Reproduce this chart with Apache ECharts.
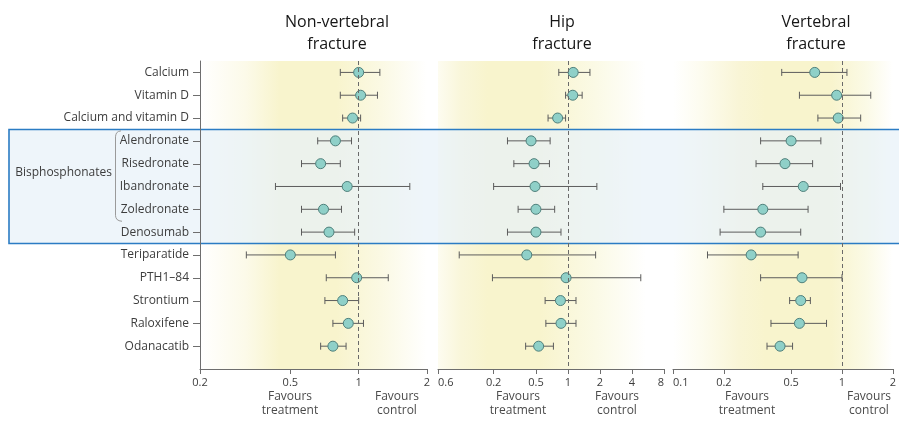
<!DOCTYPE html>
<html><head><meta charset="utf-8">
<script src="https://cdn.jsdelivr.net/npm/echarts@6/dist/echarts.min.js"></script>
<style>html,body{margin:0;padding:0;background:#fff}#c{width:899px;height:421px}</style>
</head><body><div id="c"></div>
<script>
const categories = ['Calcium','Vitamin D','Calcium and vitamin D','Alendronate','Risedronate','Ibandronate','Zoledronate','Denosumab','Teriparatide','PTH1–84','Strontium','Raloxifene','Odanacatib'];

const nonVertEst  = [1.00, 1.02, 0.94, 0.79, 0.68, 0.89, 0.70, 0.74, 0.50, 0.98, 0.85, 0.90, 0.77];
const nonVertLow  = [0.83, 0.83, 0.85, 0.66, 0.56, 0.43, 0.56, 0.56, 0.32, 0.72, 0.71, 0.77, 0.68];
const nonVertHigh = [1.24, 1.21, 1.02, 0.93, 0.83, 1.68, 0.84, 0.96, 0.79, 1.35, 1.00, 1.05, 0.88];

const hipEst  = [1.12, 1.11, 0.80, 0.45, 0.48, 0.49, 0.50, 0.50, 0.41, 0.96, 0.85, 0.86, 0.53];
const hipLow  = [0.82, 0.95, 0.65, 0.27, 0.31, 0.20, 0.34, 0.27, 0.095, 0.195, 0.61, 0.62, 0.40];
const hipHigh = [1.61, 1.36, 0.95, 0.68, 0.67, 1.87, 0.75, 0.86, 1.82, 4.84, 1.19, 1.19, 0.73];

const vertEst  = [0.69, 0.93, 0.95, 0.50, 0.46, 0.59, 0.34, 0.33, 0.29, 0.58, 0.57, 0.56, 0.43];
const vertLow  = [0.44, 0.56, 0.72, 0.33, 0.31, 0.34, 0.20, 0.19, 0.16, 0.33, 0.49, 0.38, 0.36];
const vertHigh = [1.07, 1.48, 1.29, 0.75, 0.67, 0.98, 0.63, 0.57, 0.55, 1.00, 0.65, 0.81, 0.51];

const nonVertTicks = [0.2, 0.5, 1, 2];
const nonVertTickLabels = ['0.2', '0.5', '1', '2'];
const hipTicks = [0.06, 0.2, 0.5, 1, 2, 4, 8];
const hipTickLabels = ['0.6', '0.2', '0.5', '1', '2', '4', '8'];
const vertTicks = [0.1, 0.2, 0.5, 1, 2];
const vertTickLabels = ['0.1', '0.2', '0.5', '1', '2'];

const panelTitles = ['Non-vertebral\nfracture', 'Hip\nfracture', 'Vertebral\nfracture'];
const groupLabel = 'Bisphosphonates';
const favourTreatment = 'Favours\ntreatment';
const favourControl = 'Favours\ncontrol';

const FONT = "'Open Sans', sans-serif";
const AXIS_COLOR = '#6e6e6e';
const TEXT_COLOR = '#3d3d3d';
const rows = categories.map((_, i) => i);

const chart = echarts.init(document.getElementById('c'), null, {renderer: 'canvas'});

function grad(stops) {
  return new echarts.graphic.LinearGradient(0, 0, 1, 0, stops.map(s => ({offset: s[0], color: s[1]})));
}
const Y = '#f8f4cd';
const panels = [
  {est: nonVertEst, low: nonVertLow, high: nonVertHigh, ticks: nonVertTicks, labels: nonVertTickLabels,
   min: 0.2, max: 2, left: 200, width: 227, alignMin: 'center', alignMax: 'center',
   bg: [[0, '#ffffff'], [0.2, '#fcfae9'], [0.35, Y], [0.6, Y], [0.8, '#fbf9e4'], [1, '#ffffff']],
   titleX: 332, ftX: 290, fcX: 397},
  {est: hipEst, low: hipLow, high: hipHigh, ticks: hipTicks, labels: hipTickLabels,
   min: 0.06, max: 8, left: 438, width: 226, alignMin: 'left', alignMax: 'right',
   bg: [[0, '#fdfcf0'], [0.1, '#f9f6da'], [0.22, Y], [0.45, Y], [0.7, '#fbfae6'], [0.92, '#ffffff'], [1, '#ffffff']],
   titleX: 557, ftX: 518, fcX: 617},
  {est: vertEst, low: vertLow, high: vertHigh, ticks: vertTicks, labels: vertTickLabels,
   min: 0.1, max: 2, left: 673, width: 229, alignMin: 'left', alignMax: 'center',
   bg: [[0, '#ffffff'], [0.12, '#fdfcf0'], [0.3, '#f9f5d6'], [0.42, Y], [0.72, Y], [0.88, '#fbfae6'], [1, '#ffffff']],
   titleX: 811, ftX: 747, fcX: 869}
];

function nearestLabel(v, ticks, labels) {
  let best = 0, bd = Infinity;
  ticks.forEach((t, i) => { const d = Math.abs(Math.log(v) - Math.log(t)); if (d < bd) { bd = d; best = i; } });
  return labels[best];
}

const grids = [], xAxes = [], yAxes = [], series = [], titles = [];
panels.forEach((p, i) => {
  grids.push({left: p.left, width: p.width, top: 61, height: 308, show: true, borderWidth: 0, backgroundColor: grad(p.bg)});
  xAxes.push({
    type: 'log', logBase: 10, gridIndex: i, min: p.min, max: p.max, z: 3, position: 'bottom',
    axisLine: {show: true, onZero: false, lineStyle: {color: AXIS_COLOR, width: 1}},
    axisTick: {show: true, customValues: p.ticks, length: 5, lineStyle: {color: AXIS_COLOR}},
    minorTick: {show: false},
    axisLabel: {customValues: p.ticks, formatter: v => nearestLabel(v, p.ticks, p.labels),
      margin: 8, fontSize: 11, color: TEXT_COLOR, fontFamily: FONT,
      alignMinLabel: p.alignMin, alignMaxLabel: p.alignMax},
    splitLine: {show: false}
  });
  yAxes.push({
    type: 'value', gridIndex: i, inverse: true, min: -0.5, max: 13, show: i === 0, z: 3, position: 'left',
    axisLine: {show: true, onZero: false, lineStyle: {color: AXIS_COLOR, width: 1}},
    axisTick: {show: false},
    axisLabel: {customValues: rows, formatter: v => categories[Math.round(v)] || '',
      margin: 11, fontSize: 12, color: TEXT_COLOR, fontFamily: FONT},
    splitLine: {show: false}
  });
  series.push({
    type: 'custom', xAxisIndex: i, yAxisIndex: i, z: 3, silent: true,
    data: rows.map(r => [p.low[r], p.high[r], r]),
    encode: {x: [0, 1], y: 2},
    renderItem: (params, api) => {
      const y = api.value(2);
      const a = api.coord([api.value(0), y]);
      const b = api.coord([api.value(1), y]);
      const h = 3.5;
      const st = {stroke: '#5c5c5c', lineWidth: 1};
      return {type: 'group', children: [
        {type: 'line', shape: {x1: a[0], y1: a[1], x2: b[0], y2: b[1]}, style: st},
        {type: 'line', shape: {x1: a[0], y1: a[1] - h, x2: a[0], y2: a[1] + h}, style: st},
        {type: 'line', shape: {x1: b[0], y1: b[1] - h, x2: b[0], y2: b[1] + h}, style: st}
      ]};
    },
    markLine: {silent: true, symbol: 'none', label: {show: false},
      lineStyle: {color: '#6a6a6a', type: [4, 3], width: 1}, data: [{xAxis: 1}]}
  });
  series.push({
    type: 'scatter', xAxisIndex: i, yAxisIndex: i, z: 4, silent: true,
    data: rows.map(r => [p.est[r], r]),
    symbol: 'circle', symbolSize: 10,
    itemStyle: {color: '#8fd0c8', borderColor: '#4f807b', borderWidth: 1, opacity: 1}
  });
  titles.push({text: panelTitles[i], left: p.titleX, top: 6, textAlign: 'center',
    textStyle: {fontSize: 16, fontWeight: 'normal', color: '#161616', fontFamily: FONT, lineHeight: 22}});
});

chart.setOption({
  animation: false,
  title: titles,
  grid: grids, xAxis: xAxes, yAxis: yAxes, series: series
});

const yA = chart.convertToPixel({yAxisIndex: 0}, 2.5);
const yB = chart.convertToPixel({yAxisIndex: 0}, 7.5);
const y3 = chart.convertToPixel({yAxisIndex: 0}, 3);
const y6 = chart.convertToPixel({yAxisIndex: 0}, 6);
const axisX = chart.convertToPixel({xAxisIndex: 0}, panels[0].min);
const bt = y3 - 10, bb = y6 + 12, bx = 115.5;
const bracketPts = [[121, bt], [118.5, bt + 0.6], [116.6, bt + 2], [115.8, bt + 4], [bx, bt + 6],
  [bx, bb - 6], [115.8, bb - 4], [116.8, bb - 2], [119, bb - 0.6], [122, bb]];
const graphics = [
  {type: 'rect', z: 1, silent: true, shape: {x: 9, y: yA, width: 900, height: yB - yA},
   style: {fill: 'rgba(232,241,248,0.72)', stroke: '#2b7cc4', lineWidth: 1.6}},
  {type: 'polyline', z: 5, silent: true, shape: {points: bracketPts},
   style: {fill: null, stroke: '#9a9a9a', lineWidth: 1}},
  {type: 'text', z: 5, silent: true, x: 112, y: (y3 + y6) / 2 - 2,
   style: {text: groupLabel, align: 'right', verticalAlign: 'middle', fontSize: 12, fill: TEXT_COLOR, fontFamily: FONT}}
];
rows.forEach(r => {
  const y = Math.round(chart.convertToPixel({yAxisIndex: 0}, r)) + 0.5;
  graphics.push({type: 'line', z: 5, silent: true,
    shape: {x1: axisX - 7, y1: y, x2: axisX, y2: y}, style: {stroke: AXIS_COLOR, lineWidth: 1}});
});
panels.forEach(p => {
  [[p.ftX, favourTreatment], [p.fcX, favourControl]].forEach(([x, t]) => {
    graphics.push({type: 'text', z: 5, silent: true, x: x, y: 390,
      style: {text: t, align: 'center', verticalAlign: 'top', fontSize: 12, lineHeight: 14, fill: '#4a4a4a', fontFamily: FONT}});
  });
});
chart.setOption({graphic: graphics});
</script>
</body></html>
